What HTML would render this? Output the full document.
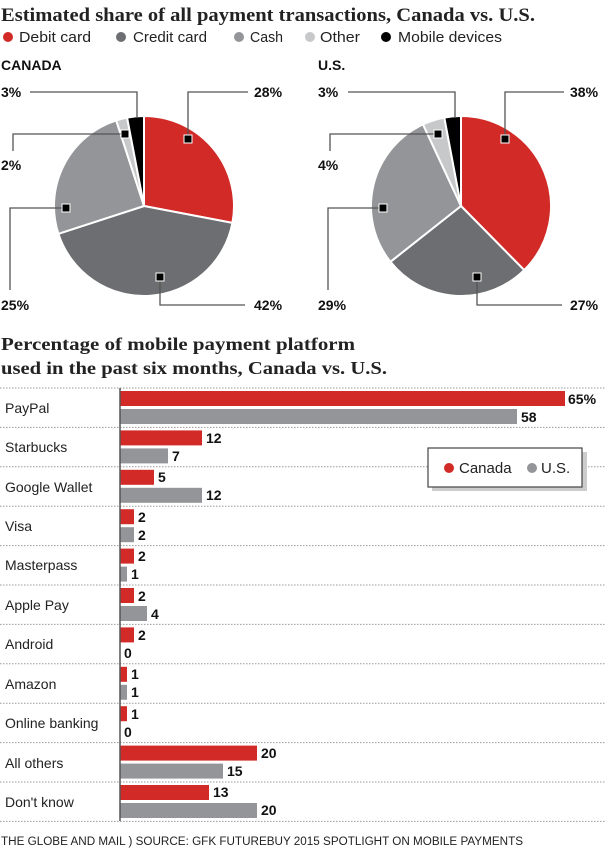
<!DOCTYPE html>
<html><head><meta charset="utf-8"><style>
html,body{margin:0;padding:0;background:#fff}
svg{display:block}
.t{font-family:"Liberation Serif",serif;font-weight:bold;fill:#222}
.s{font-family:"Liberation Sans",sans-serif;fill:#222}
.b{font-family:"Liberation Sans",sans-serif;font-weight:bold;fill:#111}
</style></head><body>
<svg width="605" height="849" viewBox="0 0 605 849" xmlns="http://www.w3.org/2000/svg">
<text class="t" x="1" y="21" font-size="19" textLength="534" lengthAdjust="spacingAndGlyphs">Estimated share of all payment transactions, Canada vs. U.S.</text>
<g font-size="15">
<circle cx="8" cy="37" r="5" fill="#d12a27"/><text class="s" x="19" y="42" font-size="15" textLength="72" lengthAdjust="spacingAndGlyphs">Debit card</text>
<circle cx="121" cy="37" r="5" fill="#6d6e71"/><text class="s" x="133" y="42" font-size="15" textLength="74" lengthAdjust="spacingAndGlyphs">Credit card</text>
<circle cx="239" cy="37" r="5" fill="#939598"/><text class="s" x="250" y="42" font-size="15" textLength="33" lengthAdjust="spacingAndGlyphs">Cash</text>
<circle cx="310" cy="37" r="5" fill="#c7c8ca"/><text class="s" x="320" y="42" font-size="15" textLength="40" lengthAdjust="spacingAndGlyphs">Other</text>
<circle cx="386" cy="37" r="5" fill="#000"/><text class="s" x="398" y="42" font-size="15" textLength="104" lengthAdjust="spacingAndGlyphs">Mobile devices</text>
</g>
<text class="b" x="1" y="70" font-size="14">CANADA</text>
<text class="b" x="318" y="70" font-size="14">U.S.</text>

<!-- Canada pie -->
<g stroke="#fff" stroke-width="2" stroke-linejoin="round">
<path d="M144 206 L144 116 A90 90 0 0 1 232.4 222.9 Z" fill="#d12a27"/>
<path d="M144 206 L232.4 222.9 A90 90 0 0 1 58.4 233.8 Z" fill="#6d6e71"/>
<path d="M144 206 L58.4 233.8 A90 90 0 0 1 116.2 120.4 Z" fill="#939598"/>
<path d="M144 206 L116.2 120.4 A90 90 0 0 1 127.1 117.6 Z" fill="#c7c8ca"/>
<path d="M144 206 L127.1 117.6 A90 90 0 0 1 144 116 Z" fill="#000"/>
</g>
<!-- US pie -->
<g stroke="#fff" stroke-width="2" stroke-linejoin="round">
<path d="M461 206 L461 116 A90 90 0 0 1 524.2 270.1 Z" fill="#d12a27"/>
<path d="M461 206 L524.2 270.1 A90 90 0 0 1 390.4 261.8 Z" fill="#6d6e71"/>
<path d="M461 206 L390.4 261.8 A90 90 0 0 1 423 124.4 Z" fill="#939598"/>
<path d="M461 206 L423 124.4 A90 90 0 0 1 444.3 117.6 Z" fill="#c7c8ca"/>
<path d="M461 206 L444.3 117.6 A90 90 0 0 1 461 116 Z" fill="#000"/>
</g>

<g fill="none" stroke="#555" stroke-width="1.3">
<polyline points="30,92 137,92 137,118"/>
<polyline points="248,92 188,92 188,139"/>
<polyline points="125,134 13,134 13,151"/>
<polyline points="66,208 10,208 10,290"/>
<polyline points="160,277 160,305 245,305"/>
<polyline points="348,92 455,92 455,118"/>
<polyline points="564,92 505,92 505,139"/>
<polyline points="438,134 330,134 330,151"/>
<polyline points="383,208 328,208 328,290"/>
<polyline points="477,277 477,305 562,305"/>
</g>
<g fill="#000" stroke="#fff" stroke-width="1">
<rect x="184" y="135" width="8" height="8"/>
<rect x="121" y="130" width="8" height="8"/>
<rect x="62" y="204" width="8" height="8"/>
<rect x="156" y="273" width="8" height="8"/>
<rect x="501" y="135" width="8" height="8"/>
<rect x="434" y="130" width="8" height="8"/>
<rect x="379" y="204" width="8" height="8"/>
<rect x="473" y="273" width="8" height="8"/>
</g>
<g class="b" font-size="14">
<text x="1" y="97">3%</text><text x="254" y="97">28%</text>
<text x="1" y="170">2%</text><text x="1" y="310">25%</text><text x="254" y="310">42%</text>
<text x="318" y="97">3%</text><text x="570" y="97">38%</text>
<text x="318" y="170">4%</text><text x="318" y="310">29%</text><text x="570" y="310">27%</text>
</g>

<text class="t" x="1" y="350" font-size="18" textLength="354" lengthAdjust="spacingAndGlyphs">Percentage of mobile payment platform</text>
<text class="t" x="1" y="374" font-size="18" textLength="386" lengthAdjust="spacingAndGlyphs">used in the past six months, Canada vs. U.S.</text>

<g stroke="#999" stroke-width="1" stroke-dasharray="1.5 1.5">
<line x1="0" y1="388" x2="605" y2="388"/><line x1="0" y1="427.4" x2="605" y2="427.4"/>
<line x1="0" y1="466.8" x2="605" y2="466.8"/><line x1="0" y1="506.2" x2="605" y2="506.2"/>
<line x1="0" y1="545.6" x2="605" y2="545.6"/><line x1="0" y1="585" x2="605" y2="585"/>
<line x1="0" y1="624.4" x2="605" y2="624.4"/><line x1="0" y1="663.8" x2="605" y2="663.8"/>
<line x1="0" y1="703.2" x2="605" y2="703.2"/><line x1="0" y1="742.6" x2="605" y2="742.6"/>
<line x1="0" y1="782" x2="605" y2="782"/><line x1="0" y1="821.4" x2="605" y2="821.4"/>
</g>

<g id="bars"></g>
<g class="s" font-size="14">
<text x="5" y="413">PayPal</text>
<text x="5" y="452">Starbucks</text>
<text x="5" y="492">Google Wallet</text>
<text x="5" y="531">Visa</text>
<text x="5" y="570">Masterpass</text>
<text x="5" y="610">Apple Pay</text>
<text x="5" y="649">Android</text>
<text x="5" y="689">Amazon</text>
<text x="5" y="728">Online banking</text>
<text x="5" y="768">All others</text>
<text x="5" y="807">Don't know</text>
</g>
<g>
<!-- rows: top = 388 + 39.4*i ; red y=top+3 h14 ; gray y=top+20 h14 ; scale 6.85 -->
<rect x="120" y="391" width="445" height="15" fill="#d12a27"/><rect x="120" y="409" width="397" height="15" fill="#939598"/>
<rect x="120" y="430.4" width="82" height="15" fill="#d12a27"/><rect x="120" y="448.4" width="48" height="15" fill="#939598"/>
<rect x="120" y="469.8" width="34" height="15" fill="#d12a27"/><rect x="120" y="487.8" width="82" height="15" fill="#939598"/>
<rect x="120" y="509.2" width="14" height="15" fill="#d12a27"/><rect x="120" y="527.2" width="14" height="15" fill="#939598"/>
<rect x="120" y="548.6" width="14" height="15" fill="#d12a27"/><rect x="120" y="566.6" width="7" height="15" fill="#939598"/>
<rect x="120" y="588" width="14" height="15" fill="#d12a27"/><rect x="120" y="606" width="27" height="15" fill="#939598"/>
<rect x="120" y="627.4" width="14" height="15" fill="#d12a27"/>
<rect x="120" y="666.8" width="7" height="15" fill="#d12a27"/><rect x="120" y="684.8" width="7" height="15" fill="#939598"/>
<rect x="120" y="706.2" width="7" height="15" fill="#d12a27"/>
<rect x="120" y="745.6" width="137" height="15" fill="#d12a27"/><rect x="120" y="763.6" width="103" height="15" fill="#939598"/>
<rect x="120" y="785" width="89" height="15" fill="#d12a27"/><rect x="120" y="803" width="137" height="15" fill="#939598"/>
</g>
<line x1="120" y1="388" x2="120" y2="821" stroke="#555" stroke-width="1.5"/>
<g class="b" font-size="14">
<text x="568" y="404">65%</text><text x="521" y="422">58</text>
<text x="206" y="443">12</text><text x="172" y="461">7</text>
<text x="158" y="482">5</text><text x="206" y="500">12</text>
<text x="138" y="522">2</text><text x="138" y="540">2</text>
<text x="138" y="561">2</text><text x="131" y="579">1</text>
<text x="138" y="601">2</text><text x="151" y="619">4</text>
<text x="138" y="640">2</text><text x="124" y="658">0</text>
<text x="131" y="679">1</text><text x="131" y="697">1</text>
<text x="131" y="719">1</text><text x="124" y="737">0</text>
<text x="261" y="758">20</text><text x="227" y="776">15</text>
<text x="213" y="797">13</text><text x="261" y="815">20</text>
</g>

<rect x="432" y="452" width="155" height="39" fill="#ccc"/>
<rect x="428" y="448" width="154" height="39" fill="#fff" stroke="#444" stroke-width="1.2"/>
<circle cx="449" cy="468" r="5" fill="#d12a27"/><text class="s" x="459" y="473" font-size="15">Canada</text>
<circle cx="532" cy="468" r="5" fill="#939598"/><text class="s" x="541" y="473" font-size="15">U.S.</text>

<text class="s" x="1" y="845" font-size="11.5" textLength="522" lengthAdjust="spacingAndGlyphs">THE GLOBE AND MAIL ) SOURCE: GFK FUTUREBUY 2015 SPOTLIGHT ON MOBILE PAYMENTS</text>
</svg>
</body></html>
